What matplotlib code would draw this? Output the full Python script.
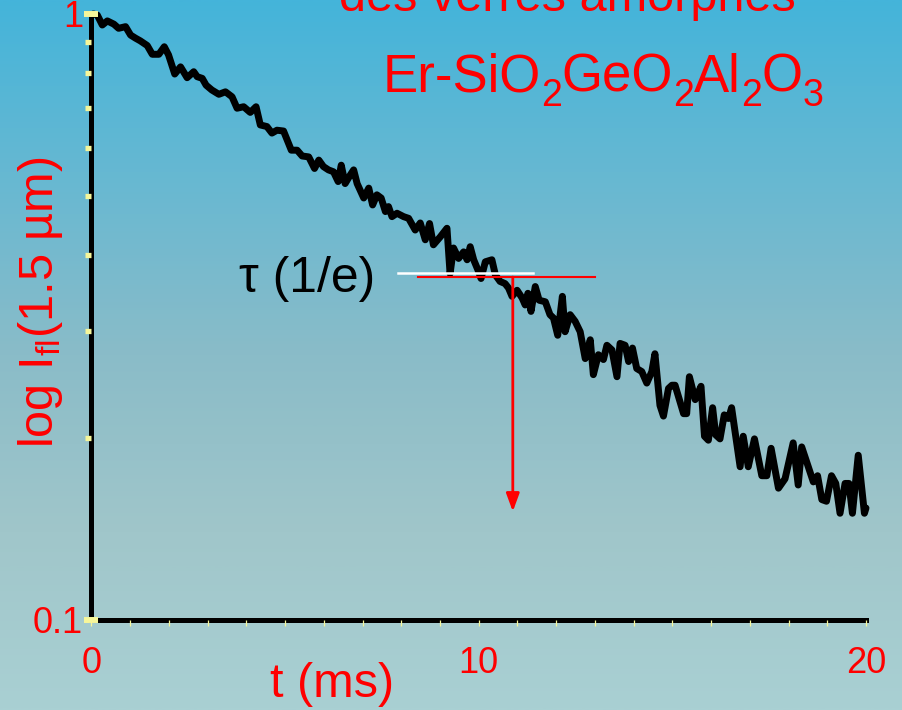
import numpy as np
import matplotlib
matplotlib.use("Agg")
import matplotlib.pyplot as plt
from matplotlib.colors import LinearSegmentedColormap
from matplotlib.ticker import NullFormatter

plt.rcParams['font.family'] = ['Liberation Sans', 'DejaVu Sans']
plt.rcParams['mathtext.fontset'] = 'custom'
plt.rcParams['mathtext.rm'] = 'Liberation Sans'
plt.rcParams['mathtext.it'] = 'Liberation Sans:italic'
plt.rcParams['mathtext.default'] = 'regular'

# Fluorescence decay of Er in SiO2-GeO2-Al2O3 glass
t_ms = [0.05, 0.15, 0.28, 0.41, 0.58, 0.70, 0.88, 1.01, 1.14, 1.26, 1.44, 1.57, 1.74, 1.88,
        1.99, 2.15, 2.30, 2.47, 2.64, 2.73, 2.86, 2.96, 3.11, 3.29, 3.46, 3.63, 3.76, 3.93,
        4.10, 4.25, 4.36, 4.53, 4.66, 4.79, 4.96, 5.16, 5.31, 5.44, 5.61, 5.76, 5.87, 5.99,
        6.12, 6.25, 6.37, 6.45, 6.55, 6.68, 6.77, 6.86, 7.03, 7.16, 7.26, 7.37, 7.48, 7.59,
        7.67, 7.76, 7.89, 8.06, 8.19, 8.36, 8.49, 8.62, 8.73, 8.83, 9.01, 9.18, 9.26, 9.35,
        9.48, 9.61, 9.70, 9.78, 9.87, 9.98, 10.06, 10.17, 10.34, 10.43, 10.55, 10.68, 10.77,
        10.86, 10.99, 11.12, 11.20, 11.27, 11.35, 11.46, 11.56, 11.72, 11.84, 11.93, 12.04,
        12.16, 12.23, 12.36, 12.49, 12.62, 12.75, 12.88, 12.96, 13.09, 13.22, 13.31, 13.44,
        13.57, 13.65, 13.78, 13.87, 13.97, 14.08, 14.21, 14.34, 14.47, 14.55, 14.68, 14.77,
        14.90, 14.99, 15.07, 15.29, 15.37, 15.44, 15.59, 15.74, 15.83, 15.93, 16.04, 16.12,
        16.23, 16.34, 16.45, 16.53, 16.75, 16.83, 16.96, 17.12, 17.31, 17.44, 17.55, 17.74,
        17.91, 18.12, 18.25, 18.34, 18.51, 18.64, 18.75, 18.86, 18.98, 19.11, 19.22, 19.33,
        19.46, 19.56, 19.65, 19.80, 19.96, 20.0]
intensity = [1.0, 0.996, 0.959, 0.974, 0.962, 0.947, 0.953, 0.923, 0.912, 0.903, 0.887, 0.858,
             0.858, 0.883, 0.856, 0.796, 0.818, 0.785, 0.803, 0.788, 0.783, 0.763, 0.749, 0.737,
             0.744, 0.730, 0.699, 0.703, 0.688, 0.703, 0.656, 0.652, 0.636, 0.643, 0.641, 0.596,
             0.596, 0.583, 0.581, 0.556, 0.574, 0.560, 0.553, 0.549, 0.529, 0.563, 0.525, 0.542,
             0.553, 0.525, 0.497, 0.516, 0.484, 0.503, 0.497, 0.472, 0.481, 0.463, 0.469, 0.463,
             0.460, 0.440, 0.452, 0.424, 0.451, 0.416, 0.429, 0.443, 0.373, 0.411, 0.395, 0.405,
             0.393, 0.413, 0.393, 0.378, 0.366, 0.390, 0.393, 0.371, 0.362, 0.359, 0.353, 0.342,
             0.350, 0.340, 0.331, 0.346, 0.323, 0.355, 0.337, 0.335, 0.319, 0.315, 0.295, 0.342,
             0.299, 0.319, 0.311, 0.299, 0.270, 0.290, 0.254, 0.274, 0.269, 0.284, 0.279, 0.252,
             0.286, 0.284, 0.267, 0.281, 0.260, 0.257, 0.246, 0.257, 0.275, 0.226, 0.217, 0.241,
             0.244, 0.244, 0.219, 0.219, 0.252, 0.231, 0.243, 0.201, 0.198, 0.224, 0.202, 0.199,
             0.218, 0.215, 0.224, 0.179, 0.201, 0.179, 0.199, 0.173, 0.173, 0.192, 0.165, 0.171,
             0.196, 0.167, 0.193, 0.179, 0.169, 0.173, 0.158, 0.157, 0.173, 0.168, 0.150, 0.168,
             0.168, 0.150, 0.187, 0.150, 0.153]

x_ticks = [0, 10, 20]
x_ticklabels = ['0', '10', '20']
x_minor = list(range(21))
y_ticks = [0.1, 1.0]
y_ticklabels = ['0.1', '1']
y_minor = [0.2, 0.3, 0.4, 0.5, 0.6, 0.7, 0.8, 0.9]

# composition formula as (text, is_subscript) runs
formula_runs = [('Er-SiO', False), ('2', True), ('GeO', False), ('2', True),
                ('Al', False), ('2', True), ('O', False), ('3', True)]

# 1/e lifetime construction
white_t = [7.92, 11.41]
white_level = 0.374
tau_line_t = [8.44, 13.01]
tau_level = 0.368
tau_ms = 10.88
arrow_end = 0.151

W, H = 903, 710
fig = plt.figure(figsize=(W / 100, H / 100), dpi=100)

# background gradient
bg = fig.add_axes([0, 0, 1, 1], zorder=-10)
cmap = LinearSegmentedColormap.from_list(
    'bg', [(0.0, '#44b4da'), (0.3, '#6eb9d0'), (0.5, '#8abcc8'),
           (0.75, '#a0c6ca'), (1.0, '#a9d0d3')])
grad = np.linspace(0, 1, 512).reshape(-1, 1)
bg.imshow(grad, aspect='auto', cmap=cmap, extent=[0, 1, 0, 1], origin='upper')
bg.axis('off')

ax = fig.add_axes([0.1013, 0.1268, 0.8577, 0.8535])
ax.patch.set_alpha(0)
ax.set_yscale('log')
ax.set_xlim(0, 20)
ax.set_ylim(0.1, 1.0)

ax.plot(t_ms, intensity, color='black', lw=5, solid_joinstyle='round',
        solid_capstyle='round', clip_on=False, zorder=3)

ax.plot(white_t, [white_level, white_level], color='white', lw=1.8, zorder=4)
ax.plot(tau_line_t, [tau_level, tau_level], color='red', lw=1.5, zorder=4)
ax.annotate('', xy=(tau_ms, arrow_end), xytext=(tau_ms, tau_level),
            arrowprops=dict(arrowstyle='-|>,head_length=0.6,head_width=0.22',
                            color='red', lw=2, mutation_scale=18,
                            shrinkA=0, shrinkB=0), zorder=4)

for side in ('top', 'right'):
    ax.spines[side].set_visible(False)
for side in ('left', 'bottom'):
    ax.spines[side].set_linewidth(3.6)
    ax.spines[side].set_color('black')

ax.set_xticks(x_ticks)
ax.set_xticklabels(x_ticklabels)
ax.set_xticks(x_minor, minor=True)
ax.set_yticks(y_ticks)
ax.set_yticklabels(y_ticklabels)
ax.set_yticks(y_minor, minor=True)
ax.yaxis.set_minor_formatter(NullFormatter())
ax.xaxis.set_minor_formatter(NullFormatter())

tick_yellow = '#f6f69a'
ax.tick_params(axis='x', which='both', direction='out', length=4.3, width=0.9,
               color=tick_yellow, labelsize=26, labelcolor='red', pad=14.8)
ax.tick_params(axis='y', which='major', direction='inout', length=10, width=4.3,
               color=tick_yellow, labelsize=26, labelcolor='red', pad=1)
ax.tick_params(axis='y', which='minor', direction='out', length=4, width=3.8,
               color=tick_yellow)
ax.xaxis.set_zorder(3.5)
ax.yaxis.set_zorder(3.5)

fig.text(567.5 / W, 1 - 11 / H, 'des verres amorphes', color='red', fontsize=35,
         ha='center', va='baseline')

# chemical formula with dropped, larger subscripts
renderer = fig.canvas.get_renderer()
main_size, sub_size, sub_drop = 38, 27, 14
widths = []
for s, is_sub in formula_runs:
    tmp = fig.text(0, 0, s, fontsize=sub_size if is_sub else main_size)
    widths.append(tmp.get_window_extent(renderer).width)
    tmp.remove()
x_px = 603 - sum(widths) / 2
base_px = 92
for (s, is_sub), w in zip(formula_runs, widths):
    y_px = base_px + (sub_drop if is_sub else 0)
    fig.text(x_px / W, 1 - y_px / H, s, color='red',
             fontsize=sub_size if is_sub else main_size, ha='left', va='baseline')
    x_px += w

fig.text(53 / W, 1 - 302 / H, r'log I$_{fl}$(1.5 µm)', color='red', fontsize=35,
         rotation=90, rotation_mode='anchor', ha='center', va='baseline')
fig.text(332.5 / W, 1 - 697 / H, 't (ms)', color='red', fontsize=35,
         ha='center', va='baseline')
fig.text(239 / W, 1 - 292 / H, 'τ (1/e)', color='black', fontsize=36,
         ha='left', va='baseline')

fig.savefig('out.png', dpi=100)
